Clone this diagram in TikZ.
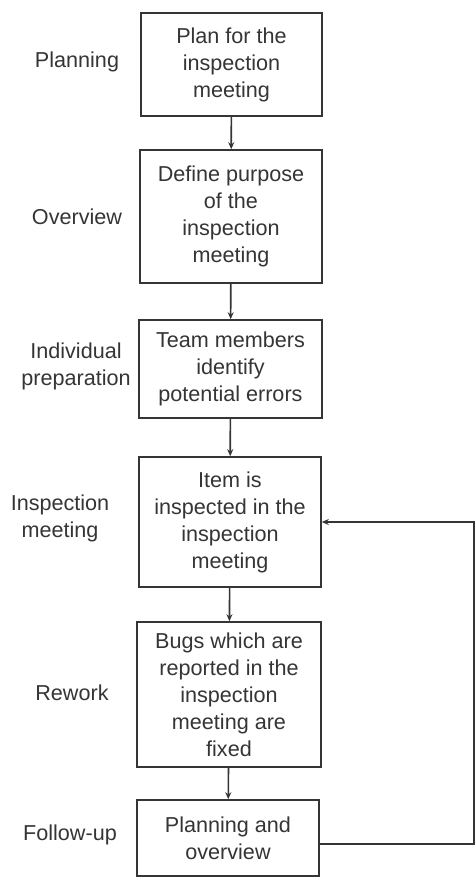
\documentclass[tikz,border=0pt]{standalone}
\usepackage{fontspec}
\setmainfont{Liberation Sans}
\usetikzlibrary{arrows.meta}
\definecolor{ink}{HTML}{353535}
\tikzset{
  stagebox/.style={draw=ink,line width=0.8pt,align=center,inner sep=0pt,
    text=ink,font=\fontsize{10.8}{13.5}\selectfont},
  stagelabel/.style={align=center,text=ink,font=\fontsize{10.8}{13.5}\selectfont},
}
\begin{document}
\begin{tikzpicture}[x=0.5pt,y=-0.5pt,>={Stealth[length=3.5pt,width=3pt]}]
\useasboundingbox[fill=white] (0,0) rectangle (476,878);

\node[stagebox,minimum width=90.5pt,minimum height=51.5pt] (plan) at (231.5,64.5)
    {Plan for the\\inspection\\meeting};
\node[stagebox,minimum width=91pt,minimum height=66.5pt] (define) at (231,216.5)
    {Define purpose\\of the\\inspection\\meeting};
\node[stagebox,minimum width=91.5pt,minimum height=49pt] (team) at (230.5,369)
    {Team members\\identify\\potential errors};
\node[stagebox,minimum width=91pt,minimum height=65pt] (item) at (230,522)
    {Item is\\inspected in the\\inspection\\meeting};
\node[stagebox,minimum width=92pt,minimum height=72.5pt] (bugs) at (229,694.5)
    {Bugs which are\\reported in the\\inspection\\meeting are\\fixed};
\node[stagebox,minimum width=91pt,minimum height=38pt] (follow) at (228,838)
    {Planning and\\overview};

\node[stagelabel] (lplan) at (77,62) {Planning};
\node[stagelabel] (ldefine) at (77,217) {Overview};
\node[stagelabel] (lteam) at (76,366) {Individual\\preparation};
\node[stagelabel] (litem) at (60,518) {Inspection\\meeting};
\node[stagelabel] (lbugs) at (72,693) {Rework};
\node[stagelabel] (lfollow) at (70,835) {Follow-up};

\draw[->,ink,line width=0.8pt] (plan)--(define);
\draw[->,ink,line width=0.8pt] (define)--(team);
\draw[->,ink,line width=0.8pt] (team)--(item);
\draw[->,ink,line width=0.8pt] (item)--(bugs);
\draw[->,ink,line width=0.8pt] (bugs)--(follow);

\coordinate (loopA) at (474,844);
\coordinate (loopB) at (474,522);
\draw[->,ink,line width=0.8pt] (follow.east |- loopA)--(loopA)--(loopB)--(item.east);
\end{tikzpicture}
\end{document}
